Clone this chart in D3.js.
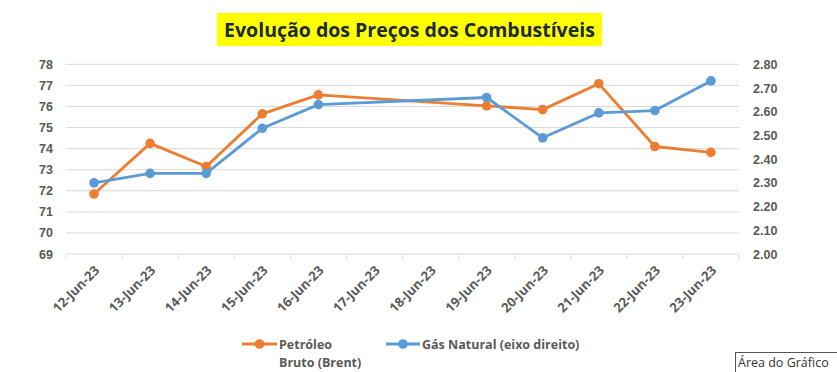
<!DOCTYPE html>
<html><head><meta charset="utf-8">
<script src="https://cdn.jsdelivr.net/npm/d3@7"></script>
<style>body{margin:0;background:#fff;}svg{display:block;font-family:"Open Sans",sans-serif;}</style>
</head><body><svg id="c" width="837" height="372"></svg>
<script>
const categories = ["12-Jun-23","13-Jun-23","14-Jun-23","15-Jun-23","16-Jun-23","17-Jun-23","18-Jun-23","19-Jun-23","20-Jun-23","21-Jun-23","22-Jun-23","23-Jun-23"];
const brent = [71.85,74.25,73.15,75.65,76.55,null,null,76.03,75.85,77.08,74.1,73.82];
const gas = [2.30,2.34,2.34,2.53,2.63,null,null,2.66,2.49,2.595,2.605,2.73];
const leftTicks = [69,70,71,72,73,74,75,76,77,78];
const rightTicks = [2.0,2.1,2.2,2.3,2.4,2.5,2.6,2.7,2.8];
const seriesNames = ["Petróleo Bruto (Brent)","Gás Natural (eixo direito)"];
const colors = ["#ED7D31","#5B9BD5"];

const svg = d3.select("#c");
const L=66, R=739, T=64.3, B=254;
const x = d3.scaleBand().domain(categories).range([L,R]);
const yL = d3.scaleLinear().domain([69,78]).range([B,T]);
const yR = d3.scaleLinear().domain([2.0,2.8]).range([B,T]);

// gridlines
svg.append("g").selectAll("line").data(leftTicks.filter(d=>d>69)).join("line")
  .attr("x1",L).attr("x2",R).attr("y1",d=>yL(d)).attr("y2",d=>yL(d))
  .attr("stroke","#d9d9d9").attr("stroke-width",1);

// left axis
const gl = svg.append("g").attr("transform",`translate(${L},0)`)
  .call(d3.axisLeft(yL).tickValues(leftTicks).tickSize(0).tickPadding(13).tickFormat(d3.format("d")));
gl.select(".domain").remove();
gl.selectAll("text").attr("fill","#595959").attr("font-size","12.5px").attr("font-weight","bold");

// right axis
const gr = svg.append("g").attr("transform",`translate(${R},0)`)
  .call(d3.axisRight(yR).tickValues(rightTicks).tickSize(0).tickPadding(14).tickFormat(d3.format(".2f")));
gr.select(".domain").remove();
gr.selectAll("text").attr("fill","#595959").attr("font-size","12.5px").attr("font-weight","bold");

// x axis
svg.append("line").attr("x1",L).attr("x2",R).attr("y1",B).attr("y2",B).attr("stroke","#d9d9d9");
const bounds = categories.map(c=>x(c)).concat([R]);
svg.append("g").selectAll("line").data(bounds).join("line")
  .attr("x1",d=>d).attr("x2",d=>d).attr("y1",B).attr("y2",B+5).attr("stroke","#d9d9d9");
svg.append("g").selectAll("text").data(categories).join("text")
  .attr("transform",d=>`translate(${x(d)+x.bandwidth()/2+3},${B+14}) rotate(-45)`)
  .attr("text-anchor","end").attr("dy","0.35em")
  .attr("fill","#595959").attr("font-size","13px").attr("font-weight","bold").text(d=>d);

// series
function drawSeries(vals, y, color){
  const pts = categories.map((c,i)=>({c,v:vals[i]})).filter(d=>d.v!==null);
  svg.append("path").datum(pts)
    .attr("d",d3.line().x(d=>x(d.c)+x.bandwidth()/2).y(d=>y(d.v)))
    .attr("fill","none").attr("stroke",color).attr("stroke-width",2.8).attr("stroke-linejoin","round");
  svg.append("g").selectAll("circle").data(pts).join("circle")
    .attr("cx",d=>x(d.c)+x.bandwidth()/2).attr("cy",d=>y(d.v)).attr("r",4.8).attr("fill",color);
}
drawSeries(brent, yL, colors[0]);
drawSeries(gas, yR, colors[1]);

// title
svg.append("rect").attr("x",217).attr("y",13).attr("width",385).attr("height",33).attr("fill","#ffff00");
svg.append("text").attr("x",409.5).attr("y",37).attr("text-anchor","middle")
  .attr("font-size","19.5px").attr("font-weight","bold").attr("fill","#1b2a3c")
  .text("Evolução dos Preços dos Combustíveis");

// legend
const lg = svg.append("g");
lg.append("line").attr("x1",242).attr("x2",277).attr("y1",344).attr("y2",344).attr("stroke",colors[0]).attr("stroke-width",2.8);
lg.append("circle").attr("cx",259.5).attr("cy",344).attr("r",4.8).attr("fill",colors[0]);
lg.append("text").attr("x",279).attr("y",349).attr("fill","#595959").attr("font-size","12.5px").attr("font-weight","bold").text("Petróleo");
lg.append("text").attr("x",279).attr("y",367).attr("fill","#595959").attr("font-size","12.5px").attr("font-weight","bold").text("Bruto (Brent)");
lg.append("line").attr("x1",386).attr("x2",420).attr("y1",344).attr("y2",344).attr("stroke",colors[1]).attr("stroke-width",2.8);
lg.append("circle").attr("cx",403).attr("cy",344).attr("r",4.8).attr("fill",colors[1]);
lg.append("text").attr("x",422).attr("y",349).attr("fill","#595959").attr("font-size","12.5px").attr("font-weight","bold").text(seriesNames[1]);

// tooltip
svg.append("rect").attr("x",735.5).attr("y",352.5).attr("width",110).attr("height",25).attr("fill","#fff").attr("stroke","#555");
svg.append("text").attr("x",738).attr("y",366.5).attr("fill","#333").attr("font-size","12.5px").text("Área do Gráfico");
</script></body></html>
